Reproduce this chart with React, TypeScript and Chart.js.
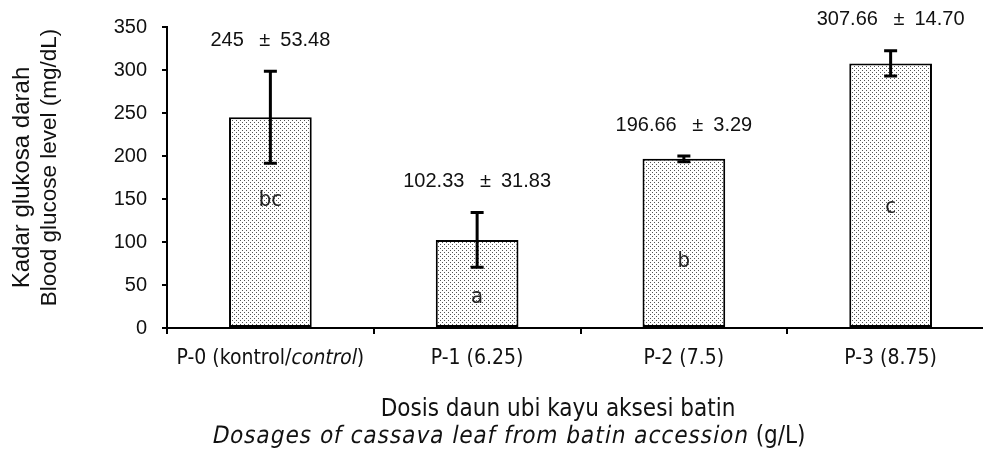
import React, { useEffect, useRef } from "react";
import { Chart, registerables } from "chart.js";

Chart.register(...registerables);

const categories = ["P-0 (kontrol/control)", "P-1 (6.25)", "P-2 (7.5)", "P-3 (8.75)"];
const means = [245, 102.33, 196.66, 307.66];
const errors = [53.48, 31.83, 3.29, 14.7];
const meanTexts = ["245", "102.33", "196.66", "307.66"];
const errorTexts = ["53.48", "31.83", "3.29", "14.70"];
const letters = ["bc", "a", "b", "c"];
const letterLevels = [149, 36, 77, 140];
const yTicks = [0, 50, 100, 150, 200, 250, 300, 350];

const HUMANIST = "'DejaVu Sans Condensed', 'Open Sans', sans-serif";
const ARIAL = "'Liberation Sans', Arial, sans-serif";

function makePattern(): CanvasPattern | string {
  const c = document.createElement("canvas");
  c.width = 4;
  c.height = 4;
  const g = c.getContext("2d");
  if (!g) return "#ddd";
  g.fillStyle = "#ffffff";
  g.fillRect(0, 0, 4, 4);
  g.fillStyle = "#555555";
  g.fillRect(0, 0, 1, 1);
  g.fillRect(2, 2, 1, 1);
  const p = g.createPattern(c, "repeat");
  return p || "#ddd";
}

type Part = { t: string; italic: boolean; spacing?: number };

function drawMixed(ctx: CanvasRenderingContext2D, parts: Part[], cx: number, cy: number, size: number, family: string) {
  ctx.font = `${size}px ${family}`;
  const anyCtx = ctx as any;
  const widths = parts.map((p) => {
    anyCtx.letterSpacing = `${p.spacing || 0}px`;
    return ctx.measureText(p.t).width;
  });
  const total = widths.reduce((a, b) => a + b, 0);
  let x = cx - total / 2;
  ctx.textAlign = "left";
  ctx.textBaseline = "middle";
  parts.forEach((p, i) => {
    anyCtx.letterSpacing = `${p.spacing || 0}px`;
    if (p.italic) {
      ctx.save();
      ctx.translate(x, cy);
      ctx.transform(1, 0, -0.2, 1, 0, 0);
      ctx.fillText(p.t, 0, 0);
      ctx.restore();
    } else {
      ctx.fillText(p.t, x, cy);
    }
    x += widths[i];
  });
  anyCtx.letterSpacing = "0px";
}

const annotate = {
  id: "annotate",
  afterDatasetsDraw(chart: any) {
    const ctx: CanvasRenderingContext2D = chart.ctx;
    const meta = chart.getDatasetMeta(0);
    const ys = chart.scales.y;
    const area = chart.chartArea;
    ctx.save();
    ctx.strokeStyle = "#000";
    ctx.fillStyle = "#000";
    meta.data.forEach((bar: any, i: number) => {
      const x = bar.x;
      const top = ys.getPixelForValue(means[i] + errors[i]);
      const bot = ys.getPixelForValue(means[i] - errors[i]);
      ctx.lineWidth = 3;
      ctx.beginPath();
      ctx.moveTo(x, top);
      ctx.lineTo(x, bot);
      ctx.moveTo(x - 6.5, top);
      ctx.lineTo(x + 6.5, top);
      ctx.moveTo(x - 6.5, bot);
      ctx.lineTo(x + 6.5, bot);
      ctx.stroke();
      // value label
      ctx.font = `20px ${ARIAL}`;
      ctx.textAlign = "center";
      ctx.textBaseline = "middle";
      ctx.fillStyle = "#111";
      ctx.fillText(`${meanTexts[i]}\u2002 ±\u2002${errorTexts[i]}`, x, top - 31);
      // letter
      ctx.font = `22px ${HUMANIST}`;
      ctx.fillStyle = "#222";
      ctx.fillText(letters[i], x, ys.getPixelForValue(letterLevels[i]));
      // category labels
      ctx.fillStyle = "#111";
      if (i === 0) {
        drawMixed(ctx, [
          { t: "P-0 (kontrol/", italic: false },
          { t: "control", italic: true },
          { t: ")", italic: false },
        ], x, area.bottom + 31, 21, HUMANIST);
      } else {
        drawMixed(ctx, [{ t: categories[i], italic: false }], x, area.bottom + 31, 21, HUMANIST);
      }
    });
    // x title
    ctx.fillStyle = "#111";
    drawMixed(ctx, [{ t: "Dosis daun ubi kayu aksesi batin", italic: false }], area.left + 391, area.bottom + 82, 24, HUMANIST);
    drawMixed(ctx, [
      { t: "Dosages of cassava leaf from batin accession", italic: true, spacing: 1 },
      { t: " (g/L)", italic: false },
    ], area.left + 342, area.bottom + 109, 24, HUMANIST);
    // y title
    const midY = (area.top + area.bottom) / 2;
    ctx.textAlign = "center";
    ctx.textBaseline = "middle";
    ctx.save();
    ctx.translate(22, midY);
    ctx.rotate(-Math.PI / 2);
    ctx.font = `24px ${ARIAL}`;
    ctx.fillText("Kadar glukosa darah", 0, 0);
    ctx.restore();
    ctx.save();
    ctx.translate(50, midY - 10);
    ctx.rotate(-Math.PI / 2);
    ctx.font = `22.5px ${ARIAL}`;
    ctx.fillText("Blood glucose level (mg/dL)", 0, 0);
    ctx.restore();
    ctx.restore();
  },
};

export default function App() {
  const ref = useRef<HTMLCanvasElement | null>(null);
  useEffect(() => {
    if (!ref.current) return;
    const chart = new Chart(ref.current, {
      type: "bar",
      data: {
        labels: categories,
        datasets: [
          {
            data: means,
            backgroundColor: makePattern() as any,
            borderColor: "#000",
            borderWidth: 2,
            borderSkipped: false,
            barPercentage: 0.8,
            categoryPercentage: 0.5,
          },
        ],
      },
      options: {
        responsive: false,
        animation: false,
        devicePixelRatio: 1,
        layout: { padding: { top: 27, right: 6, bottom: 0, left: 0 } },
        plugins: { legend: { display: false }, tooltip: { enabled: false } },
        scales: {
          x: {
            type: "category",
            grid: { display: true, drawOnChartArea: false, drawTicks: true, tickLength: 6, color: "#000", lineWidth: 2, offset: true },
            border: { display: true, color: "#000", width: 2 },
            ticks: { display: false },
            afterFit: (s: any) => { s.height = 129; },
          },
          y: {
            min: 0,
            max: 350,
            afterBuildTicks: (s: any) => { s.ticks = yTicks.map((v) => ({ value: v })); },
            grid: { display: true, drawOnChartArea: false, drawTicks: true, tickLength: 5, color: "#000", lineWidth: 2 },
            border: { display: true, color: "#000", width: 2 },
            ticks: { color: "#111", font: { family: ARIAL, size: 20 }, padding: 15 },
            afterFit: (s: any) => { s.width = 167; },
          },
        },
      },
      plugins: [annotate],
    });
    return () => chart.destroy();
  }, []);
  return (
    <div style={{ position: "fixed", left: 0, top: 0, width: 983, height: 457, overflow: "hidden", background: "#fff" }}>
      <canvas ref={ref} width={1000} height={457} style={{ width: 1000, height: 457, display: "block" }} />
    </div>
  );
}
